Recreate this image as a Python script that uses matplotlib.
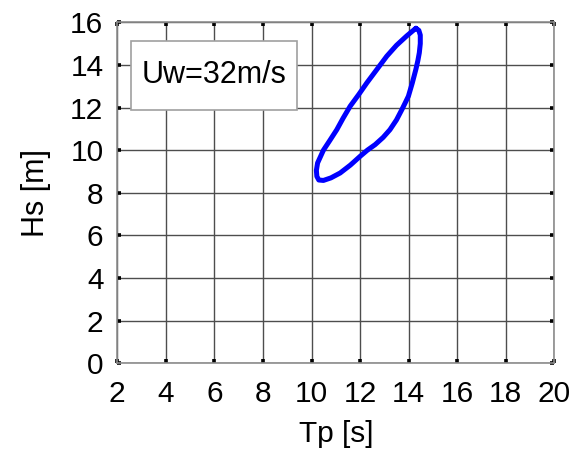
import matplotlib
matplotlib.use("Agg")
import matplotlib.pyplot as plt
from matplotlib.patches import Rectangle

plt.rcParams["font.family"] = ["Liberation Sans", "DejaVu Sans"]

# environmental contour, Uw = 32 m/s (closed loop, traced clockwise from the top)
TP = [14.30, 14.42, 14.48, 14.48, 14.44, 14.38, 14.30, 14.15, 13.99, 13.85,
      13.72, 13.50, 13.23, 12.95, 12.62, 12.30, 12.00, 11.60, 11.18, 10.80,
      10.49, 10.30, 10.22, 10.20, 10.25, 10.49, 10.75, 11.04, 11.30, 11.59,
      11.95, 12.28, 12.70, 13.10, 13.50, 13.92, 14.15, 14.30]
HS = [15.72, 15.62, 15.40, 15.00, 14.57, 14.20, 13.80, 13.15, 12.53, 12.20,
      11.90, 11.42, 10.96, 10.60, 10.26, 10.00, 9.71, 9.30, 8.93, 8.70,
      8.58, 8.60, 8.77, 9.05, 9.40, 10.00, 10.45, 10.96, 11.50, 12.06,
      12.62, 13.16, 13.80, 14.41, 14.92, 15.36, 15.58, 15.72]
XTICKS = list(range(2, 21, 2))
YTICKS = list(range(0, 17, 2))
LABEL = "Uw=32m/s"

fig = plt.figure(figsize=(5.81, 4.59), dpi=100)
ax = fig.add_axes([117.3 / 581, 1 - 363.3 / 459, 437 / 581, 341 / 459])

ax.plot(TP, HS, color="#0000ff", lw=3.6, solid_joinstyle="round",
        solid_capstyle="round", zorder=5)

ax.set_xlim(2, 20)
ax.set_ylim(0, 16)
ax.set_xticks(XTICKS)
ax.set_yticks(YTICKS)
ax.grid(True, color="#4d4d4d", lw=1.0)
ax.set_axisbelow(True)
for s in ax.spines.values():
    s.set_color("#8c8c8c")
    s.set_linewidth(1.2)
ax.tick_params(direction="in", length=3, width=2.6, color="black",
               top=True, right=True, labelsize=21.5)
ax.tick_params(axis="x", pad=12)
ax.tick_params(axis="y", pad=10)

ax.set_xlabel("Tp [s]", fontsize=21.5, labelpad=9)
ax.set_ylabel("Hs [m]", fontsize=22, labelpad=14)

# wind-speed label box in the upper-left corner
ax.add_patch(Rectangle((0.031, 0.743), 0.38, 0.202, transform=ax.transAxes,
                       facecolor="white", edgecolor="#a0a0a0", lw=1.2, zorder=6))
ax.text(0.221, 0.844, LABEL, transform=ax.transAxes, ha="center", va="center",
        fontsize=22, zorder=7)

fig.savefig("out.png", dpi=100, facecolor="white")
